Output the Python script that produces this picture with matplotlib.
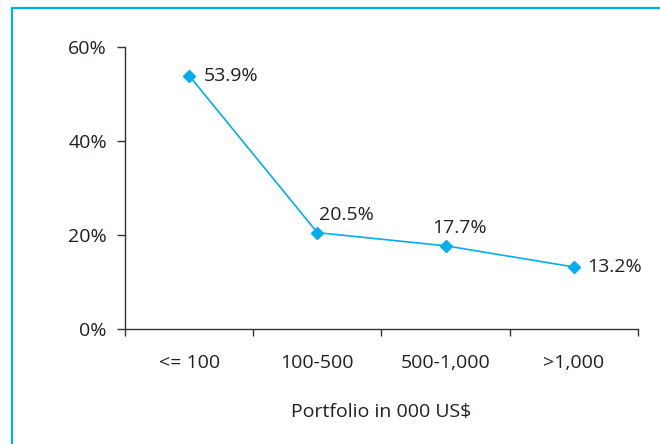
import matplotlib.pyplot as plt
from matplotlib.lines import Line2D

# data
categories = ['<= 100', '100-500', '500-1,000', '>1,000']
shares = [53.9, 20.5, 17.7, 13.2]
# label offsets in pixels (dx, dy)
label_offsets = [(15, 0), (2, 18), (-13, 18), (13, 0)]

plt.rcParams['font.family'] = ['Open Sans', 'DejaVu Sans']
text_color = '#231f20'
blue = '#00aeef'
fs = 14

fig = plt.figure(figsize=(6.6, 4.44), dpi=100)
ax = fig.add_axes([125 / 660, 1 - 329 / 444, (638 - 125) / 660, (329 - 47) / 444])

x = list(range(len(categories)))
ax.plot(x, shares, color=blue, lw=1.2, marker='D', markersize=6, zorder=3)

for xi, v, (dx, dy) in zip(x, shares, label_offsets):
    ax.annotate(f'{v:.1f}%', (xi, v), xytext=(dx, dy), textcoords='offset pixels',
                ha='left', va='center', fontsize=fs, color=text_color)

ax.set_xlim(-0.5, len(categories) - 0.5)
ax.set_ylim(0, 60)
ax.set_yticks([0, 20, 40, 60])
ax.set_yticklabels(['0%', '20%', '40%', '60%'])

# boundary ticks on x, category labels at centres
ax.set_xticks([i - 0.5 for i in range(len(categories) + 1)])
ax.set_xticklabels([])
ax.set_xticks(x, minor=True)
ax.set_xticklabels(categories, minor=True)
ax.tick_params(axis='x', which='minor', length=0, pad=18, labelsize=fs, labelcolor=text_color)
ax.tick_params(axis='x', which='major', length=5, width=1, color='#333333')
ax.tick_params(axis='y', length=6, width=1, color='#333333', pad=7, labelsize=fs, labelcolor=text_color)

ax.set_xlabel('Portfolio in 000 US$', fontsize=fs, color=text_color, labelpad=22)

for side in ['top', 'right']:
    ax.spines[side].set_visible(False)
for side in ['left', 'bottom']:
    ax.spines[side].set_color('#333333')
    ax.spines[side].set_linewidth(1)

# cyan frame on left and top
fig.add_artist(Line2D([11.5 / 660, 11.5 / 660, 1], [0, 1 - 8.5 / 444, 1 - 8.5 / 444],
                      transform=fig.transFigure, color=blue, lw=1.6))

fig.savefig('out.png', dpi=100)
